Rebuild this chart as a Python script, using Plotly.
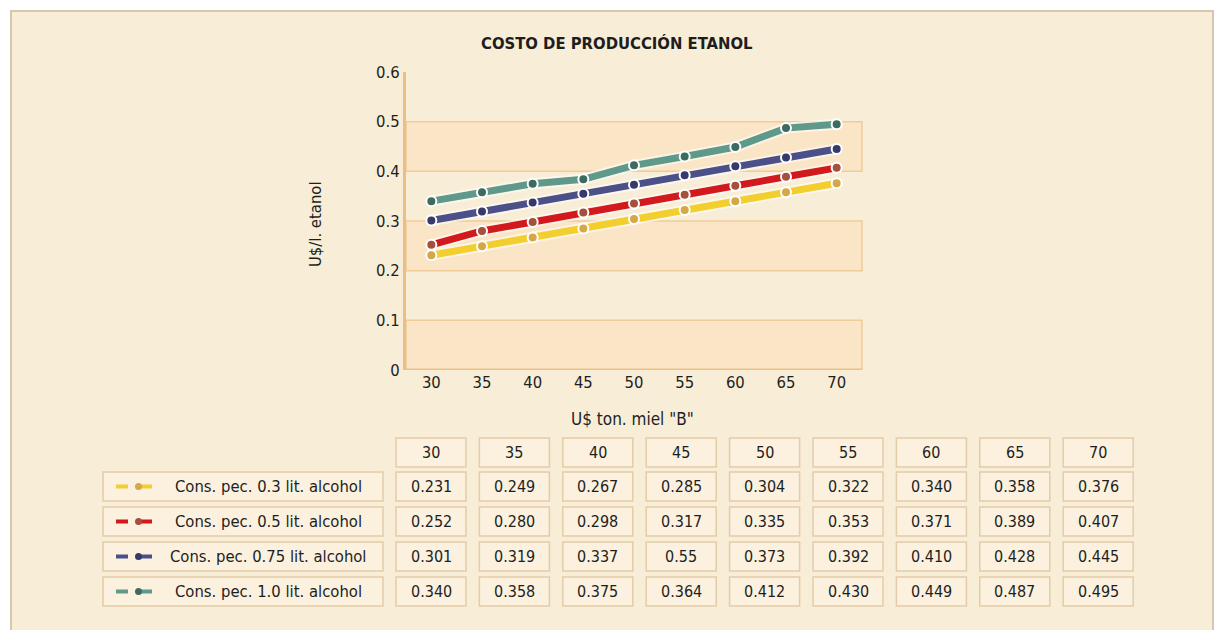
import plotly.graph_objects as go

# ---- data -------------------------------------------------------------
precio_miel = [30, 35, 40, 45, 50, 55, 60, 65, 70]

cons_03 = [0.231, 0.249, 0.267, 0.285, 0.304, 0.322, 0.340, 0.358, 0.376]
cons_05 = [0.252, 0.280, 0.298, 0.317, 0.335, 0.353, 0.371, 0.389, 0.407]
cons_075 = [0.301, 0.319, 0.337, 0.355, 0.373, 0.392, 0.410, 0.428, 0.445]
cons_10 = [0.340, 0.358, 0.375, 0.384, 0.412, 0.430, 0.449, 0.487, 0.495]

series_names = [
    "Cons. pec. 0.3 lit. alcohol",
    "Cons. pec. 0.5 lit. alcohol",
    "Cons. pec. 0.75 lit. alcohol",
    "Cons. pec. 1.0 lit. alcohol",
]

# printed values in the data table
tabla_03 = ["0.231", "0.249", "0.267", "0.285", "0.304", "0.322", "0.340", "0.358", "0.376"]
tabla_05 = ["0.252", "0.280", "0.298", "0.317", "0.335", "0.353", "0.371", "0.389", "0.407"]
tabla_075 = ["0.301", "0.319", "0.337", "0.55", "0.373", "0.392", "0.410", "0.428", "0.445"]
tabla_10 = ["0.340", "0.358", "0.375", "0.364", "0.412", "0.430", "0.449", "0.487", "0.495"]

y_ticks = [0, 0.1, 0.2, 0.3, 0.4, 0.5, 0.6]

# ---- styling ----------------------------------------------------------
W, H = 1218, 630
L, R, T, B = 406, 862, 72, 370          # plot area in pixels
BG = "#F8EDD6"
BAND = "#FAE6C6"
BAND_LINE = "#EFCC9A"
AXIS_LINE = "#EBBE86"
CELL_FILL = "#FBF1DE"
CELL_LINE = "#E3CCA8"
TXT = "#1E1E1E"
FONT = "DejaVu Sans Condensed, Liberation Sans Narrow, Liberation Sans, sans-serif"

line_colors = ["#F2CE2E", "#D2191D", "#4C5088", "#5E9989"]
marker_colors = ["#D6A747", "#A4503C", "#363A6A", "#3D6B60"]
all_series = [cons_03, cons_05, cons_075, cons_10]
table_rows = [tabla_03, tabla_05, tabla_075, tabla_10]


def px(x):
    return (x - L) / (R - L)


def py(y):
    return (B - y) / (B - T)


fig = go.Figure()

for vals, lc, mc, name in zip(all_series, line_colors, marker_colors, series_names):
    # soft light halo under each line
    fig.add_trace(go.Scatter(
        x=precio_miel, y=vals, mode="lines",
        line=dict(color="rgba(255,255,255,0.55)", width=11),
        hoverinfo="skip", showlegend=False))
    fig.add_trace(go.Scatter(
        x=precio_miel, y=vals, mode="lines+markers", name=name,
        line=dict(color=lc, width=7),
        marker=dict(color=mc, size=10, line=dict(color="#FFFFFF", width=2)),
        showlegend=False))

shapes = []
# outer frame of the figure (drawn first so everything sits on top of it)
shapes.append(dict(type="rect", xref="paper", yref="paper",
                   x0=px(-5), x1=px(W + 5), y0=py(H + 5), y1=py(-5),
                   fillcolor="#FFFFFF", line=dict(width=0), layer="below"))
shapes.append(dict(type="rect", xref="paper", yref="paper",
                   x0=px(11), x1=px(1213), y0=py(632), y1=py(11),
                   fillcolor=BG, line=dict(color="#D8C7AE", width=2), layer="below"))

# alternating horizontal bands behind the lines
for y0, y1 in [(0, 0.1), (0.2, 0.3), (0.4, 0.5)]:
    shapes.append(dict(type="rect", xref="x domain", yref="y", x0=0, x1=1, y0=y0, y1=y1,
                       fillcolor=BAND, line=dict(color=BAND_LINE, width=1.5), layer="below"))
# heavier base line at zero
shapes.append(dict(type="line", xref="x domain", yref="y", x0=0, x1=1, y0=0, y1=0,
                   line=dict(color=AXIS_LINE, width=3), layer="below"))

annotations = []

# data table: header row + one row per series
col_x0 = [396 + i * 83.4 for i in range(len(precio_miel))]
col_w = 70
row_tops = [438, 472, 507, 542, 577]
row_h = 29


def cell(x0, x1, y0, y1):
    shapes.append(dict(type="rect", xref="paper", yref="paper",
                       x0=px(x0), x1=px(x1), y0=py(y1), y1=py(y0),
                       fillcolor=CELL_FILL, line=dict(color=CELL_LINE, width=1.5)))


def text(x, y, s, size=16, **kw):
    annotations.append(dict(xref="paper", yref="paper", x=px(x), y=py(y), text=s,
                            showarrow=False, font=dict(family=FONT, size=size, color=TXT),
                            xanchor="center", yanchor="middle", **kw))


for i, xv in enumerate(precio_miel):
    x0 = col_x0[i]
    cell(x0, x0 + col_w, row_tops[0], row_tops[0] + row_h)
    text(x0 + col_w / 2, row_tops[0] + row_h / 2, str(xv))

for r, (row, name, lc, mc) in enumerate(zip(table_rows, series_names, line_colors, marker_colors)):
    top = row_tops[r + 1]
    cy = top + row_h / 2
    cell(103, 383, top, top + row_h)
    # legend sample: short line with a dot
    shapes.append(dict(type="line", xref="paper", yref="paper",
                       x0=px(116), x1=px(161), y0=py(cy), y1=py(cy),
                       line=dict(color=lc, width=4, dash="dash")))
    shapes.append(dict(type="circle", xref="paper", yref="paper",
                       x0=px(135), x1=px(142), y0=py(cy + 3.5), y1=py(cy - 3.5),
                       fillcolor=mc, line=dict(color=mc, width=0)))
    text(268, cy, name, size=16.5)
    for i, s in enumerate(row):
        x0 = col_x0[i]
        cell(x0, x0 + col_w, top, top + row_h)
        text(x0 + col_w / 2, cy, s)

# title and axis titles
text(617, 43, "<b>COSTO DE PRODUCCIÓN ETANOL</b>", size=16.5)
text(632, 419, "U$ ton. miel \"B\"", size=17)
text(316, 224, "U$/l. etanol", size=16.5, textangle=-90)

fig.update_layout(
    width=W, height=H,
    margin=dict(l=L, r=W - R, t=T, b=H - B, pad=0),
    paper_bgcolor=BG, plot_bgcolor="rgba(0,0,0,0)",
    font=dict(family=FONT, size=16, color=TXT),
    shapes=shapes, annotations=annotations,
    showlegend=False,
)
fig.update_xaxes(range=[27.5, 72.5], tickvals=precio_miel, showgrid=False, zeroline=False,
                 showline=False, ticks="", tickfont=dict(size=16.5, color=TXT))
fig.update_yaxes(range=[0, 0.6], tickvals=y_ticks, showgrid=False, zeroline=False,
                 showline=True, linecolor=AXIS_LINE, linewidth=3, ticks="",
                 tickfont=dict(size=16.5, color=TXT))

fig.write_html("out.html")
